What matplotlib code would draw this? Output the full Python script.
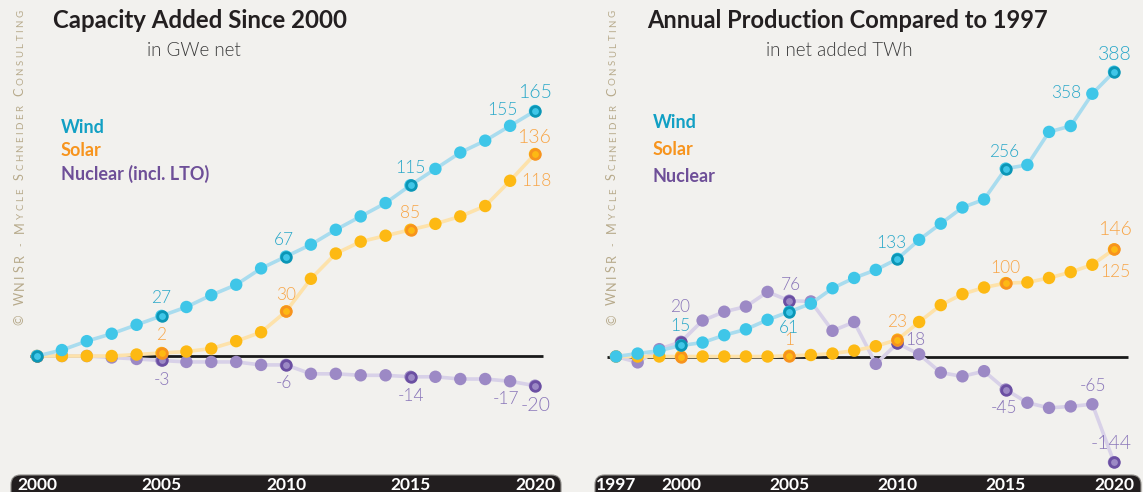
import matplotlib
matplotlib.use("Agg")
import matplotlib.pyplot as plt
from matplotlib.patches import FancyBboxPatch
from matplotlib.transforms import IdentityTransform, blended_transform_factory

# ---------------- data ----------------
years_cap = list(range(2000, 2021))
wind_cap = [0, 4, 10, 15, 21, 27, 33, 41, 48, 59, 67, 75, 85, 94, 103, 115, 126, 137, 145, 155, 165]
solar_cap = [0, 0, 0, 0, 1, 2, 3, 5, 10, 16, 30, 52, 69, 77, 81, 85, 89, 94, 101, 118, 136]
nuclear_cap = [0, 0, 0, -1, -2, -3, -4, -4, -4, -6, -6, -12, -12, -13, -13, -14, -14, -15.5, -15.5, -17, -20]

years_prod = list(range(1997, 2021))
wind_prod = [0, 4, 8, 15, 19, 29, 37, 50, 61, 72, 93, 107, 118, 133, 159, 181, 203, 214, 256, 261, 306, 314, 358, 388]
solar_prod = [0, 0, 0, 0, 0, 0, 0, 0, 1, 2, 4, 8, 14, 23, 47, 70, 85, 94, 100, 101, 107, 115, 125, 146]
nuclear_prod = [0, -8, 10, 20, 49, 61, 68, 88, 76, 75, 35, 47, -10, 18, 3, -22, -27, -20, -45, -63, -70, -68, -65, -144]

highlight_years = [2000, 2005, 2010, 2015, 2020]
ticks_cap = [2000, 2005, 2010, 2015, 2020]
ticks_prod = [1997, 2000, 2005, 2010, 2015, 2020]

labels_cap = {
    "wind": [2005, 2010, 2015, 2019, 2020],
    "solar": [2005, 2010, 2015, 2019, 2020],
    "nuclear": [2005, 2010, 2015, 2019, 2020],
}
labels_prod = {
    "wind": [2000, 2005, 2010, 2015, 2019, 2020],
    "solar": [2005, 2010, 2015, 2019, 2020],
    "nuclear": [2000, 2005, 2010, 2015, 2019, 2020],
}

title_cap = "Capacity Added Since 2000"
sub_cap = "in GWe net"
legend_cap = ["Wind", "Solar", "Nuclear (incl. LTO)"]
title_prod = "Annual Production Compared to 1997"
sub_prod = "in net added TWh"
legend_prod = ["Wind", "Solar", "Nuclear"]
watermark = [("©", "big"), (" ", "sp"), ("WNISR", "big"), (" - ", "sp"),
             ("M", "big"), ("YCLE", "small"), (" ", "sp"), ("S", "big"),
             ("CHNEIDER", "small"), (" ", "sp"), ("C", "big"), ("ONSULTING", "small")]

# ---------------- style ----------------
W, H = 1143, 492
BG = "#f2f1ee"
FONT = "Lato"
LIGHT = 300
STY = {
    "wind": dict(line="#a9dcee", dot="#3fc6e8", ring="#0b96b6", lab="#2aa8c9", leg="#12a0c4"),
    "solar": dict(line="#fde2ab", dot="#fdb913", ring="#f7931e", lab="#f8a546", leg="#f7941d"),
    "nuclear": dict(line="#d8d1e8", dot="#9c89c5", ring="#6b4fa2", lab="#8a76b9", leg="#6e4f98"),
}

# label offsets (px): (dx, dy_up, ha, va, big)
OFF_CAP = {
    ("wind", 2005): (0, 18, "center", "center", False),
    ("wind", 2010): (-2, 17, "center", "center", False),
    ("wind", 2015): (0, 17, "center", "center", False),
    ("wind", 2019): (-8, 16, "center", "center", False),
    ("wind", 2020): (0, 18, "center", "center", True),
    ("solar", 2005): (0, 18, "center", "center", False),
    ("solar", 2010): (0, 16, "center", "center", False),
    ("solar", 2015): (0, 17, "center", "center", False),
    ("solar", 2019): (11, 0, "left", "center", False),
    ("solar", 2020): (-1, 17, "center", "center", True),
    ("nuclear", 2005): (0, -20, "center", "center", False),
    ("nuclear", 2010): (-2, -18, "center", "center", False),
    ("nuclear", 2015): (1, -19, "center", "center", False),
    ("nuclear", 2019): (-4, -18, "center", "center", False),
    ("nuclear", 2020): (1, -20, "center", "center", True),
}
OFF_PROD = {
    ("wind", 2000): (-1, 19, "center", "center", False),
    ("wind", 2005): (0, -16, "center", "center", False),
    ("wind", 2010): (-6, 16, "center", "center", False),
    ("wind", 2015): (-2, 17, "center", "center", False),
    ("wind", 2019): (-11, 1, "right", "center", False),
    ("wind", 2020): (1, 17, "center", "center", True),
    ("solar", 2005): (0, 16, "center", "center", False),
    ("solar", 2010): (0, 18, "center", "center", False),
    ("solar", 2015): (0, 15, "center", "center", False),
    ("solar", 2019): (8, -7, "left", "center", False),
    ("solar", 2020): (1, 20, "center", "center", True),
    ("nuclear", 2000): (-1, 35, "center", "center", False),
    ("nuclear", 2005): (2, 16, "center", "center", False),
    ("nuclear", 2010): (8, 3, "left", "center", False),
    ("nuclear", 2015): (-2, -18, "center", "center", False),
    ("nuclear", 2019): (1, 18, "center", "center", False),
    ("nuclear", 2020): (-3, 19, "center", "center", True),
}

fig = plt.figure(figsize=(W / 100, H / 100), dpi=100, facecolor=BG)
PT = 72 / 100  # points per pixel


def make_axes(px0, px1, ref_px, ref_year, px_per_year, zero_px, px_per_unit):
    ax = fig.add_axes([px0 / W, 0, (px1 - px0) / W, 1])
    ax.set_xlim(ref_year - (ref_px - px0) / px_per_year, ref_year + (px1 - ref_px) / px_per_year)
    ax.set_ylim(-(H - zero_px) / px_per_unit, zero_px / px_per_unit)
    ax.axis("off")
    ax.patch.set_alpha(0)
    return ax


def draw_panel(ax, years, series, labels, offs, ppy, zero_l, zero_r):
    ax.plot([years[0] - zero_l / ppy, years[-1] + zero_r / ppy], [0, 0],
            color="#1a1a1a", lw=2.0, zorder=2, solid_capstyle="butt")
    z = 3
    for name in ["nuclear", "solar", "wind"]:
        vals = series[name]
        s = STY[name]
        ax.plot(years, vals, color=s["line"], lw=2.6, zorder=z, solid_joinstyle="round")
        ax.scatter(years, vals, s=80, color=s["dot"], edgecolors="none", zorder=z + 0.1)
        hy = [y for y in years if y in highlight_years]
        hv = [vals[years.index(y)] for y in hy]
        ax.scatter(hy, hv, s=48, facecolor=s["dot"], edgecolors=s["ring"],
                   linewidths=2.0, zorder=z + 0.2)
        for yr in labels[name]:
            v = vals[years.index(yr)]
            dx, dy, ha, va, big = offs[(name, yr)]
            ax.annotate(f"{v:g}", (yr, v), xytext=(dx * PT, dy * PT), textcoords="offset points",
                        ha=ha, va=va, color=s["lab"], fontsize=14 if big else 12.5,
                        family=FONT, fontweight=LIGHT, zorder=10)
        z += 1


def draw_bar(ax, x0, x1, ticks):
    bar = FancyBboxPatch((x0, -12), (x1 - x0), 29,
                         boxstyle="round,pad=0,rounding_size=9.5",
                         transform=IdentityTransform(), facecolor="#221e1f",
                         edgecolor="#8e8c88", lw=0.8, zorder=20, clip_on=False)
    ax.add_artist(bar)
    tr = blended_transform_factory(ax.transData, ax.transAxes)
    for t in ticks:
        ax.text(t, 6.5 / H, str(t), transform=tr, ha="center", va="center",
                color="white", fontsize=12.5, fontweight="bold", family=FONT, zorder=25)


def figtext(xpx, ypx, s, **kw):
    fig.text(xpx / W, 1 - ypx / H, s, family=FONT, **kw)


def draw_watermark(xbase, ystart, yend):
    renderer = fig.canvas.get_renderer()
    sizes = {"big": 9.2, "small": 7.0, "sp": 7.0}
    items = []
    for seg, kind in watermark:
        for ch in seg:
            items.append((ch, kind))
    widths = []
    for ch, kind in items:
        if ch == " ":
            widths.append(4.0)
            continue
        t = fig.text(0, 0, ch, fontsize=sizes[kind], family=FONT)
        widths.append(t.get_window_extent(renderer).width)
        t.remove()
    total = sum(widths)
    track = ((ystart - yend) - total) / (len(items) - 1)
    y = H - ystart
    for (ch, kind), w in zip(items, widths):
        if ch != " ":
            fig.text(xbase / W, y / H, ch, fontsize=sizes[kind], family=FONT, color="#b7aa8b",
                     rotation=90, rotation_mode="anchor", ha="left", va="baseline")
        y += w + track


# ---------------- left panel ----------------
axL = make_axes(0, 575, 37, 2000, 24.9, 356, 1.485)
draw_panel(axL, years_cap, {"wind": wind_cap, "solar": solar_cap, "nuclear": nuclear_cap},
           labels_cap, OFF_CAP, 24.9, 7, 8)
draw_bar(axL, 11, 561, ticks_cap)
figtext(200, 20, title_cap, fontsize=17.3, fontweight="bold", color="#231f20", ha="center", va="center")
figtext(194, 50, sub_cap, fontsize=13.5, fontweight=LIGHT, color="#3a3a3a", ha="center", va="center")
for i, (txt, key) in enumerate(zip(legend_cap, ["wind", "solar", "nuclear"])):
    figtext(61, 127.5 + i * 23.3, txt, fontsize=13, fontweight="bold", color=STY[key]["leg"],
            ha="left", va="center")

# ---------------- right panel ----------------
axR = make_axes(580, 1143, 616, 1997, 21.652, 356.5, 0.734)
draw_panel(axR, years_prod, {"wind": wind_prod, "solar": solar_prod, "nuclear": nuclear_prod},
           labels_prod, OFF_PROD, 21.652, 9, 14)
draw_bar(axR, 595, 1141, ticks_prod)
figtext(847, 20, title_prod, fontsize=17.0, fontweight="bold", color="#231f20", ha="center", va="center")
figtext(839, 50, sub_prod, fontsize=13.5, fontweight=LIGHT, color="#3a3a3a", ha="center", va="center")
for i, (txt, key) in enumerate(zip(legend_prod, ["wind", "solar", "nuclear"])):
    figtext(653, 123 + i * 26.5, txt, fontsize=13, fontweight="bold", color=STY[key]["leg"],
            ha="left", va="center")

draw_watermark(23.5, 325, 10)
draw_watermark(616, 325, 10)

fig.savefig("out.png", dpi=100, facecolor=BG)
